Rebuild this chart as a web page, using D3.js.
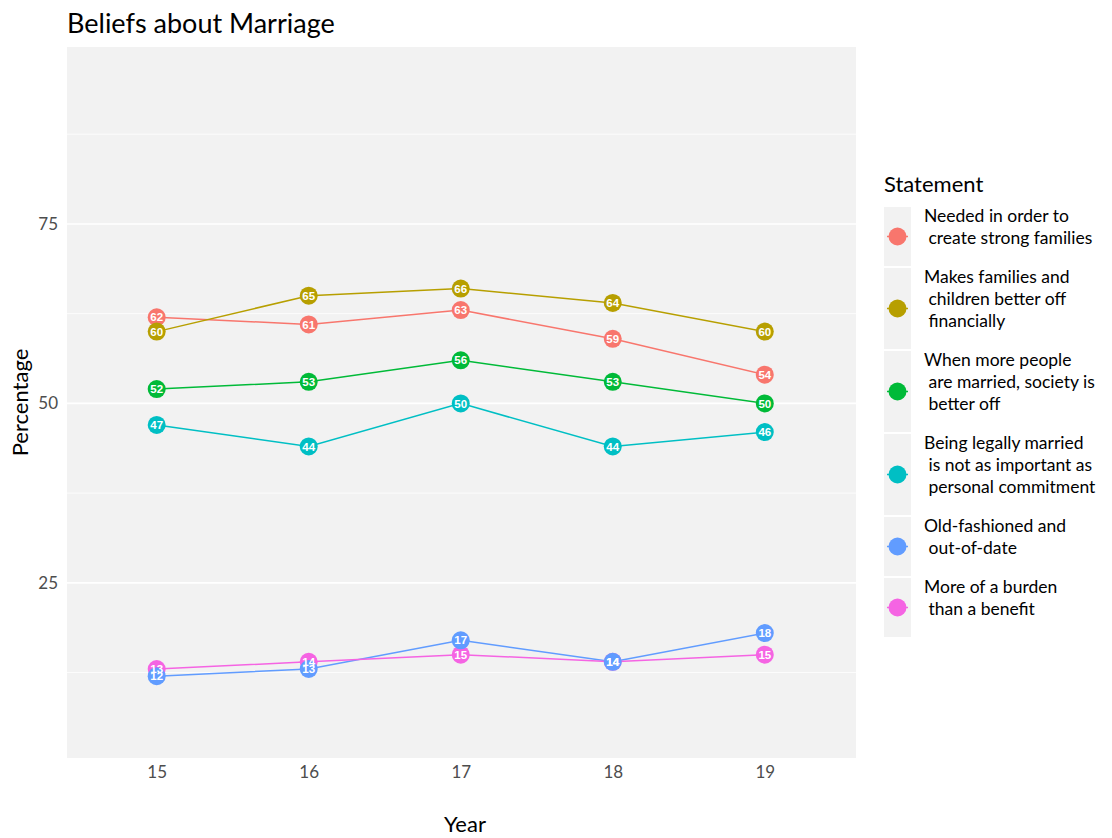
<!DOCTYPE html>
<html>
<head>
<meta charset="utf-8">
<script src="https://cdn.jsdelivr.net/npm/d3@7"></script>
<style>
  html, body { margin: 0; padding: 0; background: #fff; }
  svg { display: block; font-family: Lato, "Open Sans", sans-serif; }
</style>
</head>
<body>
<svg id="chart" width="1112" height="838"></svg>
<script>
// Survey years and the share agreeing with each statement
const years = [15, 16, 17, 18, 19];
const statements = [
  "Needed in order to\n create strong families",
  "Makes families and\n children better off\n financially",
  "When more people\n are married, society is\n better off",
  "Being legally married\n is not as important as\n personal commitment",
  "Old-fashioned and\n out-of-date",
  "More of a burden\n than a benefit"
];
const neededValues   = [62, 61, 63, 59, 54];
const financialValues = [60, 65, 66, 64, 60];
const societyValues  = [52, 53, 56, 53, 50];
const commitmentValues = [47, 44, 50, 44, 46];
const oldFashionedValues = [12, 13, 17, 14, 18];
const burdenValues   = [13, 14, 15, 14, 15];
const yTicks = [25, 50, 75];
const yMinor = [12.5, 37.5, 62.5, 87.5];
const palette = ["#F8766D", "#B79F00", "#00BA38", "#00BFC4", "#619CFF", "#F564E3"];

const seriesValues = [neededValues, financialValues, societyValues, commitmentValues, oldFashionedValues, burdenValues];
const series = statements.map((s, i) => ({
  name: s, color: palette[i],
  points: years.map((yr, j) => ({ year: yr, value: seriesValues[i][j] }))
}));
// points of the last two statements: burden drawn beneath old-fashioned
const pointOrder = [0, 1, 2, 3, 5, 4];

const svg = d3.select("#chart");
const panel = { left: 67, right: 856, top: 47, bottom: 758 };

const x = d3.scaleLinear().domain([14.41, 19.6]).range([panel.left, panel.right]);
const y = d3.scaleLinear().domain([0.6, 99.65]).range([panel.bottom, panel.top]);

// panel background and grid
svg.append("rect")
  .attr("x", panel.left).attr("y", panel.top)
  .attr("width", panel.right - panel.left).attr("height", panel.bottom - panel.top)
  .attr("fill", "#f2f2f2");

svg.append("g").selectAll("line").data(yMinor).join("line")
  .attr("x1", panel.left).attr("x2", panel.right)
  .attr("y1", d => y(d)).attr("y2", d => y(d))
  .attr("stroke", "#fff").attr("stroke-width", 0.8);
svg.append("g").selectAll("line").data(yTicks).join("line")
  .attr("x1", panel.left).attr("x2", panel.right)
  .attr("y1", d => y(d)).attr("y2", d => y(d))
  .attr("stroke", "#fff").attr("stroke-width", 1.6);

// axes (labels only)
const yAxis = svg.append("g")
  .attr("transform", `translate(${panel.left},0)`)
  .call(d3.axisLeft(y).tickValues(yTicks).tickSize(0).tickPadding(9));
yAxis.select(".domain").remove();
yAxis.selectAll("text").attr("fill", "#4d4d4d").style("font-size", "17px")
  .style("font-family", "Lato, sans-serif");

const xAxis = svg.append("g")
  .attr("transform", `translate(0,${panel.bottom})`)
  .call(d3.axisBottom(x).tickValues(years).tickFormat(d3.format("d")).tickSize(0).tickPadding(8));
xAxis.select(".domain").remove();
xAxis.selectAll("text").attr("fill", "#4d4d4d").style("font-size", "17px")
  .style("font-family", "Lato, sans-serif");

// lines
const line = d3.line().x(d => x(d.year)).y(d => y(d.value));
svg.append("g").selectAll("path").data(series).join("path")
  .attr("d", d => line(d.points))
  .attr("fill", "none")
  .attr("stroke", d => d.color)
  .attr("stroke-width", 1.5);

// points
const pointG = svg.append("g");
pointOrder.forEach(i => {
  pointG.append("g").selectAll("circle").data(series[i].points).join("circle")
    .attr("cx", d => x(d.year)).attr("cy", d => y(d.value))
    .attr("r", 9).attr("fill", series[i].color);
});

// value labels
const labelG = svg.append("g");
series.forEach(s => {
  labelG.append("g").selectAll("text").data(s.points).join("text")
    .attr("x", d => x(d.year)).attr("y", d => y(d.value))
    .attr("dy", "0.36em")
    .attr("text-anchor", "middle")
    .attr("fill", "#fff")
    .style("font-family", "'Liberation Sans', Arial, sans-serif")
    .style("font-weight", "bold")
    .style("font-size", "11.5px")
    .text(d => d.value);
});

// titles
svg.append("text").attr("x", 67).attr("y", 33)
  .style("font-size", "27px").attr("fill", "#000")
  .text("Beliefs about Marriage");
svg.append("text").attr("x", 465).attr("y", 832)
  .attr("text-anchor", "middle").style("font-size", "22px").attr("fill", "#000")
  .text("Year");
svg.append("text")
  .attr("transform", `translate(28,${(panel.top + panel.bottom) / 2}) rotate(-90)`)
  .attr("text-anchor", "middle").style("font-size", "22px").attr("fill", "#000")
  .text("Percentage");

// legend
const legend = svg.append("g");
legend.append("text").attr("x", 884).attr("y", 192)
  .style("font-size", "22px").attr("fill", "#000").text("Statement");

const keyX = 884, keyW = 27, lineH = 22;
let keyTop = 207;
series.forEach(s => {
  const lines = s.name.split("\n");
  const h = lines.length === 2 ? 59 : 81;
  legend.append("rect").attr("x", keyX).attr("y", keyTop)
    .attr("width", keyW).attr("height", h).attr("fill", "#f2f2f2");
  const cy = keyTop + h / 2;
  legend.append("line").attr("x1", keyX + 3).attr("x2", keyX + keyW - 3)
    .attr("y1", cy).attr("y2", cy).attr("stroke", s.color).attr("stroke-width", 1.5);
  legend.append("circle").attr("cx", keyX + keyW / 2).attr("cy", cy)
    .attr("r", 9).attr("fill", s.color);
  const t = legend.append("text").attr("x", 924)
    .attr("y", keyTop + 15)
    .style("font-size", "17.5px").attr("fill", "#000")
    .attr("xml:space", "preserve").style("white-space", "pre");
  lines.forEach((ln, k) => {
    t.append("tspan").attr("x", 924).attr("dy", k === 0 ? 0 : lineH).text(ln);
  });
  keyTop += h + 2;
});
</script>
</body>
</html>
